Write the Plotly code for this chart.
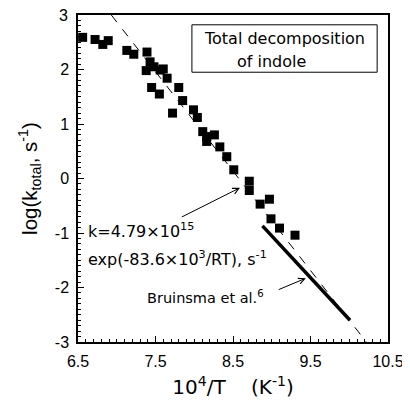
import plotly.graph_objects as go

# Experimental data: 10^4/T (K^-1) vs log(k_total, s^-1)
inv_T = [6.56, 6.72, 6.82, 6.89, 7.13, 7.22, 7.39, 7.43, 7.38, 7.48, 7.56, 7.60,
         7.65, 7.45, 7.55, 7.80, 7.85, 7.72, 7.99, 8.04, 8.11, 8.16, 8.26, 8.16,
         8.33, 8.42, 8.51, 8.71, 8.71, 8.85, 8.97, 8.99, 9.10, 9.30]
log_k = [2.59, 2.55, 2.46, 2.53, 2.35, 2.28, 2.32, 2.14, 1.98, 2.05, 1.99, 2.01,
         1.84, 1.67, 1.55, 1.67, 1.43, 1.20, 1.26, 1.12, 0.86, 0.77, 0.80, 0.68,
         0.58, 0.40, 0.16, -0.05, -0.22, -0.47, -0.38, -0.74, -0.91, -1.04]

# Fit line (dashed) endpoints
fit_x = [6.93, 10.22]
fit_y = [3.0, -3.0]

# Bruinsma et al. line endpoints
bru_x = [8.88, 10.01]
bru_y = [-0.87, -2.60]

x_ticks = [6.5, 7.5, 8.5, 9.5, 10.5]
x_ticklabels = ["6.5", "7.5", "8.5", "9.5", "10.5"]
y_ticks = [-3, -2, -1, 0, 1, 2]
y_ticklabels = ["-3", "-2", "-1", "0", "1", "2"]
y_top_tick = 3
y_top_label = "3"

TICKFONT = "Liberation Sans, Arial, sans-serif"
FONT = "DejaVu Sans, sans-serif"

fig = go.Figure()
fig.add_trace(go.Scatter(x=fit_x, y=fit_y, mode="lines",
                         line=dict(color="black", width=1, dash="dash"),
                         showlegend=False))
fig.add_trace(go.Scatter(x=bru_x, y=bru_y, mode="lines",
                         line=dict(color="black", width=3.5),
                         showlegend=False))
fig.add_trace(go.Scatter(x=inv_T, y=log_k, mode="markers",
                         marker=dict(symbol="square", size=9, color="black"),
                         showlegend=False))

# Text box
fig.add_shape(type="rect", x0=7.97, x1=10.36, y0=1.95, y1=2.82,
              line=dict(color="black", width=1))
fig.add_annotation(x=9.17, y=2.56, text="Total decomposition", showarrow=False,
                   font=dict(size=16, family=FONT, color="black"))
fig.add_annotation(x=9.0, y=2.14, text="of indole", showarrow=False,
                   font=dict(size=16, family=FONT, color="black"))

# Fit annotation
fig.add_annotation(x=6.6, y=-0.96, text="k=4.79×10<sup>15</sup>", showarrow=False,
                   xanchor="left", font=dict(size=16, family=FONT, color="black"))
fig.add_annotation(x=6.6, y=-1.46, text="exp(-83.6×10<sup>3</sup>/RT), s<sup>-1</sup>",
                   showarrow=False, xanchor="left",
                   font=dict(size=16, family=FONT, color="black"))
fig.add_annotation(x=8.59, y=-0.17, ax=7.82, ay=-0.72, axref="x", ayref="y",
                   text="", showarrow=True, arrowhead=5, arrowsize=1.2,
                   arrowwidth=1, arrowcolor="black")

# Bruinsma annotation
fig.add_annotation(x=7.37, y=-2.17, text="Bruinsma et al.<sup>6</sup>", showarrow=False,
                   xanchor="left", font=dict(size=14.5, family=FONT, color="black"))
fig.add_annotation(x=9.44, y=-1.83, ax=9.07, ay=-2.05, axref="x", ayref="y",
                   text="", showarrow=True, arrowhead=5, arrowsize=1.2,
                   arrowwidth=1, arrowcolor="black")

# Top y tick label (drawn as annotation so it is not displaced at the figure edge)
fig.add_annotation(xref="paper", x=0, y=y_top_tick, yref="y", text=y_top_label,
                   showarrow=False, xanchor="right", yanchor="middle", xshift=-8,
                   font=dict(size=16, family=TICKFONT, color="black"))

axis_common = dict(showgrid=False, zeroline=False, showline=True, linecolor="black",
                   linewidth=1.5, mirror=True, ticks="inside", ticklen=6,
                   tickcolor="black", tickwidth=1, automargin=False,
                   tickfont=dict(size=16, family=TICKFONT, color="black"))

fig.update_xaxes(range=[6.5, 10.5],
                 tickvals=x_ticks, ticktext=x_ticklabels,
                 ticklabelstandoff=4,
                 minor=dict(dtick=0.1, tick0=6.5, ticks="inside", ticklen=3,
                            tickcolor="black"),
                 title=dict(text="10<sup>4</sup>/T\u00a0\u00a0\u00a0\u00a0(K<sup>-1</sup>)",
                            font=dict(size=20, family=FONT, color="black"),
                            standoff=11),
                 **axis_common)
fig.update_yaxes(range=[-3, 3],
                 tickvals=y_ticks + [y_top_tick],
                 ticktext=[t + "\u2005" for t in y_ticklabels] + [""],
                 minor=dict(dtick=0.1, tick0=-3, ticks="inside", ticklen=3,
                            tickcolor="black"),
                 title=dict(text="log(k<sub>total</sub>, s<sup>-1</sup>)",
                            font=dict(size=20.5, family=TICKFONT, color="black"),
                            standoff=12),
                 **axis_common)

# The page body adds an 8px offset, so the figure is sized to fit the window
fig.update_layout(width=402, height=400,
                  margin=dict(l=70, r=22, t=7, b=66),
                  plot_bgcolor="white", paper_bgcolor="white")

fig.write_html("out.html")
